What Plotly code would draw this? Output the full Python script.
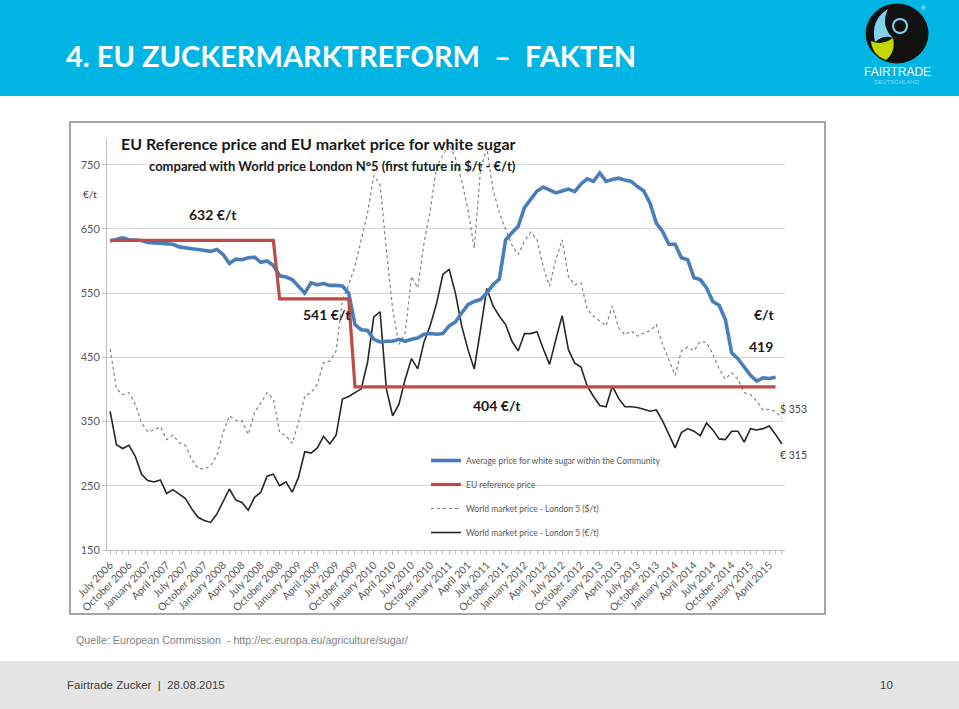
import plotly.graph_objects as go

# ---------------- data ----------------
tick_labels = ["July 2006", "October 2006", "January 2007", "April 2007", "July 2007",
               "October 2007", "January 2008", "April 2008", "July 2008", "October 2008",
               "January 2009", "April 2009", "July 2009", "October 2009", "January 2010",
               "April 2010", "July 2010", "October 2010", "January 2011", "April 201",
               "July 2011", "October 2011", "January 2012", "April 2012", "July 2012",
               "October 2012", "January 2013", "April 2013", "July 2013", "October 2013",
               "January 2014", "April 2014", "July 2014", "October 2014", "January 2015",
               "April 2015"]
tick_positions = [0, 3, 6, 9, 12, 15, 18, 21, 24, 27, 30, 33, 36, 39, 42, 45, 48, 51,
                  54, 57, 60, 63, 66, 69, 72, 75, 78, 81, 84, 87, 90, 93, 96, 99, 102, 105]

# Average price for white sugar within the Community (EUR/t), July 2006 - May 2015
eu_market = [631, 633, 636, 633, 632, 632, 629, 628, 628, 627, 626, 622, 620, 619, 618,
             617, 615, 618, 610, 596, 603, 602, 605, 606, 598, 600, 593, 577, 575, 571,
             561, 550, 566, 563, 565, 562, 562, 561, 550, 501, 493, 492, 478, 474, 475,
             475, 478, 475, 478, 480, 486, 487, 486, 487, 499, 505, 519, 532, 537, 540,
             550, 563, 572, 633, 644, 654, 683, 697, 709, 715, 711, 706, 709, 712, 708,
             720, 728, 724, 737, 724, 727, 729, 726, 724, 716, 709, 690, 659, 646, 626,
             626, 605, 602, 574, 571, 558, 537, 531, 509, 457, 448, 434, 422, 413, 418,
             417, 419]

# EU reference price (EUR/t)
eu_reference = [632, 632, 632, 632, 632, 632, 632, 632, 632, 632, 632, 632, 632, 632, 632,
                632, 632, 632, 632, 632, 632, 632, 632, 632, 632, 632, 632, 541, 541, 541,
                541, 541, 541, 541, 541, 541, 541, 541, 541, 404, 404, 404, 404, 404, 404,
                404, 404, 404, 404, 404, 404, 404, 404, 404, 404, 404, 404, 404, 404, 404,
                404, 404, 404, 404, 404, 404, 404, 404, 404, 404, 404, 404, 404, 404, 404,
                404, 404, 404, 404, 404, 404, 404, 404, 404, 404, 404, 404, 404, 404, 404,
                404, 404, 404, 404, 404, 404, 404, 404, 404, 404, 404, 404, 404, 404, 404,
                404, 404]

# World market price London 5 ($/t), July 2006 - June 2015
world_usd = [463, 401, 392, 395, 377, 348, 334, 337, 342, 322, 329, 317, 313, 291, 277,
             276, 281, 297, 333, 359, 352, 351, 330, 364, 379, 395, 385, 333, 328, 316,
             348, 390, 395, 408, 442, 444, 460, 540, 563, 592, 633, 675, 733, 719, 618,
             525, 470, 488, 576, 558, 628, 680, 747, 765, 782, 760, 725, 680, 620, 742,
             776, 711, 675, 649, 625, 610, 631, 645, 633, 590, 561, 602, 633, 576, 563,
             566, 525, 514, 506, 499, 530, 496, 485, 491, 483, 488, 491, 501, 470, 447,
             422, 460, 466, 460, 475, 473, 455, 432, 416, 426, 416, 395, 392, 382, 368,
             369, 366, 355]

# World market price London 5 (EUR/t), July 2006 - June 2015
world_eur = [366, 314, 308, 313, 296, 268, 258, 256, 259, 238, 244, 237, 230, 214, 201,
             196, 193, 206, 226, 245, 228, 224, 212, 232, 240, 265, 268, 250, 256, 240,
             263, 303, 301, 309, 327, 315, 329, 385, 389, 395, 401, 442, 513, 521, 401,
             359, 377, 416, 448, 432, 474, 500, 534, 579, 587, 550, 499, 462, 432, 493,
             557, 530, 514, 501, 475, 460, 487, 487, 490, 463, 439, 478, 515, 462, 441,
             435, 405, 389, 375, 373, 405, 386, 373, 373, 372, 369, 366, 368, 351, 330,
             309, 333, 339, 335, 328, 348, 337, 323, 322, 335, 335, 318, 339, 337, 339,
             343, 330, 315]

y_ticks = [150, 250, 350, 450, 550, 650, 750]

# ---------------- layout helpers ----------------
W, H = 959, 709
L, R, T, B = 107, 785, 139, 550


def px(x):
    return (x - L) / (R - L)


def py(y):
    return (B - y) / (B - T)


def pth(points):
    # build an SVG path in paper coordinates from (cmd, x, y, ...) pixel tuples
    out = []
    for item in points:
        cmd, coords = item[0], item[1:]
        vals = []
        for k in range(0, len(coords), 2):
            vals.append("%f,%f" % (px(coords[k]), py(coords[k + 1])))
        out.append(cmd + " " + " ".join(vals))
    return " ".join(out) + " Z"


CAL = "Lato, 'Open Sans', sans-serif"
NARROW = "'Liberation Sans Narrow', 'Liberation Sans', Arial, sans-serif"

fig = go.Figure()

fig.add_trace(go.Scatter(
    x=list(range(len(world_usd))), y=world_usd, mode="lines",
    name="World market price - London 5 ($/t)", legendgroup="c", legendrank=3,
    line=dict(color="#808080", width=1.2, dash="dot")))
fig.add_trace(go.Scatter(
    x=list(range(len(world_eur))), y=world_eur, mode="lines",
    name="World market price - London 5 (€/t)", legendgroup="d", legendrank=4,
    line=dict(color="#262626", width=1.6)))
fig.add_trace(go.Scatter(
    x=list(range(len(eu_market))), y=eu_market, mode="lines",
    name="Average price for white sugar within the Community", legendgroup="a", legendrank=1,
    line=dict(color="#4A7EBB", width=3.6)))
fig.add_trace(go.Scatter(
    x=list(range(len(eu_reference))), y=eu_reference, mode="lines",
    name="EU reference price", legendgroup="b", legendrank=2,
    line=dict(color="#BE4B48", width=3.2)))

shapes = [
    # header band
    dict(type="rect", xref="paper", yref="paper", x0=px(-5), x1=px(965), y0=py(96), y1=py(-5),
         fillcolor="#00B4E4", line=dict(width=0), layer="below"),
    # footer band
    dict(type="rect", xref="paper", yref="paper", x0=px(-5), x1=px(965), y0=py(715), y1=py(661),
         fillcolor="#E5E5E5", line=dict(width=0), layer="below"),
    # chart frame
    dict(type="rect", xref="paper", yref="paper", x0=px(70), x1=px(825), y0=py(614), y1=py(122),
         line=dict(color="#A6A6A6", width=2), fillcolor="rgba(0,0,0,0)", layer="below"),
    # logo: black oval
    dict(type="circle", xref="paper", yref="paper", x0=px(866), x1=px(928), y0=py(63), y1=py(4),
         fillcolor="#111111", line=dict(color="#111111", width=1)),
    # logo: light swoosh (upper left)
    dict(type="path", xref="paper", yref="paper",
         path=pth([("M", 888, 9), ("Q", 870, 20, 875, 42), ("Q", 884, 34, 893, 38),
                   ("Q", 880, 26, 888, 9)]),
         fillcolor="#7FD3EF", line=dict(width=0)),
    # logo: green swoosh (lower left)
    dict(type="path", xref="paper", yref="paper",
         path=pth([("M", 893, 38), ("Q", 896, 52, 886, 60), ("Q", 872, 55, 871, 41),
                   ("Q", 882, 46, 893, 38)]),
         fillcolor="#C4D600", line=dict(width=0)),
    # logo: head
    dict(type="circle", xref="paper", yref="paper", x0=px(892), x1=px(908), y0=py(34), y1=py(18),
         fillcolor="#7FD3EF", line=dict(width=0)),
    dict(type="circle", xref="paper", yref="paper", x0=px(894), x1=px(906), y0=py(32), y1=py(20),
         fillcolor="#111111", line=dict(width=0)),
]


def ann(text, x, y, size, color="#262626", bold=False, xanchor="center", family=CAL):
    if bold:
        text = "<b>" + text + "</b>"
    return dict(text=text, x=px(x), y=py(y), xref="paper", yref="paper",
                xanchor=xanchor, yanchor="middle", showarrow=False,
                font=dict(size=size, color=color, family=family))


annotations = [
    ann("4. EU ZUCKERMARKTREFORM \u00a0–\u00a0 FAKTEN", 64, 55, 29, "#FFFFFF", True, "left"),
    ann("FAIRTRADE", 897, 72, 12, "#FFFFFF", False, "center", "'Liberation Sans', Arial"),
    ann("DEUTSCHLAND", 897, 82, 6, "#8FD8EE", False, "center", "'Liberation Sans', Arial"),
    ann("®", 923, 8, 6, "#FFFFFF", False, "center", "'Liberation Sans', Arial"),
    ann("EU Reference price and EU market price for white sugar", 119, 143, 16, "#1A1A1A", True, "left"),
    ann("compared with World price London N°5 (first future in $/t - €/t)", 332, 166, 13, "#1A1A1A", True),
    ann("€/t", 90, 194, 10, "#404040"),
    ann("632 €/t", 213, 214, 14, "#1A1A1A", True),
    ann("541 €/t", 327, 314, 14, "#1A1A1A", True),
    ann("404 €/t", 497, 405, 14, "#1A1A1A", True),
    ann("€/t", 764, 314, 14, "#1A1A1A", True),
    ann("419", 761, 346, 14, "#1A1A1A", True),
    ann("$ 353", 778, 409, 10.5, "#404040", False, "left"),
    ann("€ 315", 778, 455, 10.5, "#404040", False, "left"),
    ann("Quelle: European Commission \u00a0- http://ec.europa.eu/agriculture/sugar/", 74, 640, 10.7,
        "#7F7F7F", False, "left", NARROW),
    ann("Fairtrade Zucker \u00a0|\u00a0 28.08.2015", 65, 685, 11.5, "#404040", False, "left", NARROW),
    ann("10", 886, 685, 11.5, "#404040", False, "center", NARROW),
]

fig.update_layout(
    width=W, height=H,
    margin=dict(l=L, r=W - R, t=T, b=H - B, pad=0),
    paper_bgcolor="#FFFFFF", plot_bgcolor="rgba(0,0,0,0)",
    showlegend=True,
    legend=dict(x=px(426), y=py(446), xanchor="left", yanchor="top",
                bgcolor="rgba(0,0,0,0)", traceorder="grouped", tracegroupgap=5,
                font=dict(size=8.5, color="#595959", family=CAL), itemwidth=30),
    shapes=shapes, annotations=annotations,
    font=dict(family=CAL, color="#595959"),
)

fig.update_xaxes(
    range=[-0.5, 107.5], tickmode="array", tickvals=tick_positions, ticktext=tick_labels,
    tickangle=-45, tickfont=dict(size=10.5, color="#595959", family=CAL),
    showgrid=False, zeroline=False, showline=True, linecolor="#BFBFBF", linewidth=1,
    ticks="outside", ticklen=4, tickcolor="#BFBFBF",
    minor=dict(dtick=1, tick0=0, ticks="outside", ticklen=3, tickcolor="#BFBFBF"),
)
fig.update_yaxes(
    range=[150, 790], tickmode="array", tickvals=y_ticks,
    tickfont=dict(size=11, color="#595959", family=CAL),
    showgrid=True, gridcolor="#D9D9D9", gridwidth=1, zeroline=False,
    showline=True, linecolor="#BFBFBF", linewidth=1,
    ticks="outside", ticklen=4, tickcolor="#BFBFBF",
)

fig.write_html("out.html", config={"displayModeBar": False},
               post_script="document.body.style.margin='0px';")
